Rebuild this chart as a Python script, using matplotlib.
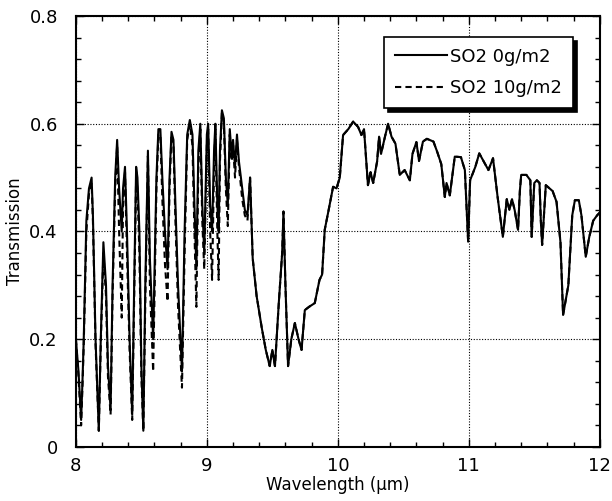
import matplotlib
matplotlib.use("Agg")
import matplotlib.pyplot as plt
from matplotlib.ticker import MultipleLocator

# Low-wavelength part (8.0 - 9.35 um): the two cases differ
wl_low = [8.00, 8.02, 8.04, 8.05, 8.06, 8.08, 8.10, 8.12, 8.13, 8.15, 8.175, 8.19,
          8.21, 8.23, 8.245, 8.265, 8.28, 8.30, 8.315, 8.33, 8.35, 8.36, 8.375, 8.39,
          8.41, 8.43, 8.445, 8.46, 8.47, 8.485, 8.50, 8.515, 8.53, 8.55, 8.565, 8.59,
          8.615, 8.63, 8.645, 8.66, 8.68, 8.70, 8.715, 8.73, 8.745, 8.76, 8.78, 8.81,
          8.83, 8.85, 8.87, 8.89, 8.905, 8.92, 8.935, 8.95, 8.965, 8.98, 9.00, 9.01,
          9.025, 9.04, 9.055, 9.065, 9.08, 9.09, 9.10, 9.115, 9.13, 9.145, 9.16, 9.175,
          9.19, 9.20, 9.215, 9.23, 9.245, 9.27, 9.29, 9.31, 9.33]
t0_low = [0.20, 0.14, 0.05, 0.12, 0.20, 0.42, 0.48, 0.50, 0.43, 0.20, 0.03, 0.20,
          0.38, 0.30, 0.15, 0.07, 0.30, 0.50, 0.57, 0.48, 0.40, 0.48, 0.52, 0.40,
          0.20, 0.06, 0.30, 0.52, 0.50, 0.40, 0.15, 0.03, 0.30, 0.55, 0.35, 0.20,
          0.50, 0.59, 0.59, 0.50, 0.40, 0.33, 0.50, 0.585, 0.57, 0.45, 0.30, 0.14,
          0.40, 0.58, 0.607, 0.58, 0.45, 0.33, 0.55, 0.60, 0.45, 0.36, 0.58, 0.60,
          0.45, 0.40, 0.55, 0.60, 0.45, 0.40, 0.55, 0.625, 0.61, 0.50, 0.45, 0.59,
          0.54, 0.57, 0.52, 0.58, 0.53, 0.48, 0.44, 0.43, 0.50]
t10_low = [0.20, 0.13, 0.04, 0.11, 0.19, 0.40, 0.47, 0.49, 0.42, 0.19, 0.03, 0.19,
           0.36, 0.28, 0.13, 0.06, 0.28, 0.48, 0.56, 0.40, 0.24, 0.45, 0.51, 0.36,
           0.18, 0.05, 0.27, 0.50, 0.48, 0.36, 0.13, 0.03, 0.27, 0.54, 0.30, 0.14,
           0.48, 0.58, 0.58, 0.46, 0.34, 0.27, 0.48, 0.58, 0.56, 0.42, 0.26, 0.11,
           0.36, 0.57, 0.60, 0.56, 0.40, 0.26, 0.52, 0.59, 0.42, 0.33, 0.56, 0.59,
           0.40, 0.31, 0.52, 0.59, 0.40, 0.31, 0.53, 0.62, 0.60, 0.48, 0.41, 0.58,
           0.53, 0.56, 0.50, 0.57, 0.52, 0.46, 0.43, 0.42, 0.50]

# High-wavelength part (9.35 - 12 um): both cases coincide
wl_high = [9.35, 9.38, 9.42, 9.45, 9.48, 9.50, 9.52, 9.55, 9.575, 9.585, 9.60, 9.62,
           9.645, 9.672, 9.70, 9.723, 9.748, 9.78, 9.824, 9.86, 9.88, 9.90, 9.93,
           9.964, 9.99, 10.015, 10.04, 10.08, 10.117, 10.155, 10.18, 10.20, 10.23,
           10.25, 10.27, 10.30, 10.315, 10.33, 10.36, 10.384, 10.41, 10.44, 10.473,
           10.51, 10.55, 10.57, 10.60, 10.62, 10.65, 10.68, 10.73, 10.76, 10.79,
           10.817, 10.83, 10.855, 10.893, 10.94, 10.97, 10.995, 11.01, 11.05, 11.08,
           11.15, 11.185, 11.22, 11.26, 11.29, 11.31, 11.33, 11.35, 11.376, 11.39,
           11.40, 11.44, 11.47, 11.48, 11.50, 11.52, 11.54, 11.55, 11.56, 11.588,
           11.64, 11.67, 11.70, 11.72, 11.76, 11.79, 11.81, 11.84, 11.86, 11.893,
           11.92, 11.95, 11.98, 12.00]
t_high = [0.35, 0.28, 0.22, 0.18, 0.15, 0.18, 0.15, 0.27, 0.36, 0.437, 0.30, 0.15,
          0.20, 0.23, 0.20, 0.18, 0.254, 0.26, 0.267, 0.31, 0.32, 0.403, 0.44,
          0.483, 0.48, 0.50, 0.579, 0.59, 0.604, 0.594, 0.579, 0.59, 0.486,
          0.51, 0.49, 0.53, 0.576, 0.544, 0.576, 0.60, 0.576, 0.563, 0.505,
          0.514, 0.495, 0.544, 0.566, 0.531, 0.567, 0.572, 0.567, 0.547, 0.525,
          0.464, 0.49, 0.467, 0.539, 0.538, 0.514, 0.381, 0.495, 0.52, 0.545,
          0.514, 0.536, 0.464, 0.39, 0.46, 0.44, 0.46, 0.44, 0.403, 0.475,
          0.505, 0.505, 0.495, 0.39, 0.49, 0.495, 0.49, 0.42, 0.375, 0.486,
          0.475, 0.455, 0.38, 0.245, 0.30, 0.43, 0.458, 0.458, 0.43, 0.353,
          0.39, 0.42, 0.43, 0.435]

xticks = [8, 9, 10, 11, 12]
yticks = [0, 0.2, 0.4, 0.6, 0.8]
ytick_labels = ["0", "0.2", "0.4", "0.6", "0.8"]

fig = plt.figure(figsize=(6.12, 5.01), dpi=100)
ax = fig.add_axes([0.124, 0.108, 0.856, 0.860])

ax.plot(wl_low + wl_high, t0_low + t_high, color="black", lw=1.5,
        label="SO2 0g/m2", zorder=3)
ax.plot(wl_low + wl_high, t10_low + t_high, color="black", lw=1.5,
        ls=(0, (3, 2)), label="SO2 10g/m2", zorder=2)

ax.set_xlim(8, 12)
ax.set_ylim(0, 0.8)
ax.set_xticks(xticks)
ax.set_yticks(yticks)
ax.set_yticklabels(ytick_labels)
ax.xaxis.set_minor_locator(MultipleLocator(0.2))
ax.yaxis.set_minor_locator(MultipleLocator(0.04))
ax.tick_params(which="both", direction="in", top=True, right=True, labelsize=13,
               width=1.0)
ax.tick_params(axis="x", which="major", length=6, pad=7)
ax.tick_params(axis="y", which="major", length=6, pad=13)
ax.tick_params(which="minor", length=3.5)
ax.grid(True, which="major", ls=(0, (1, 1.5)), color="black", lw=0.8)
for s in ax.spines.values():
    s.set_linewidth(1.5)

ax.set_xlabel("Wavelength (µm)", fontsize=12, labelpad=1)
ax.set_ylabel("Transmission", fontsize=12, labelpad=4)

leg = ax.legend(loc="upper right", bbox_to_anchor=(0.948, 0.952), fontsize=13,
                frameon=True, fancybox=False, edgecolor="black", framealpha=1,
                shadow={"color": "black", "alpha": 1, "ox": 3, "oy": -3},
                handlelength=2.9, handletextpad=0.15, borderpad=0.6,
                labelspacing=0.75, borderaxespad=0.0)
leg.get_frame().set_linewidth(1.2)

fig.savefig("out.png", dpi=100)
